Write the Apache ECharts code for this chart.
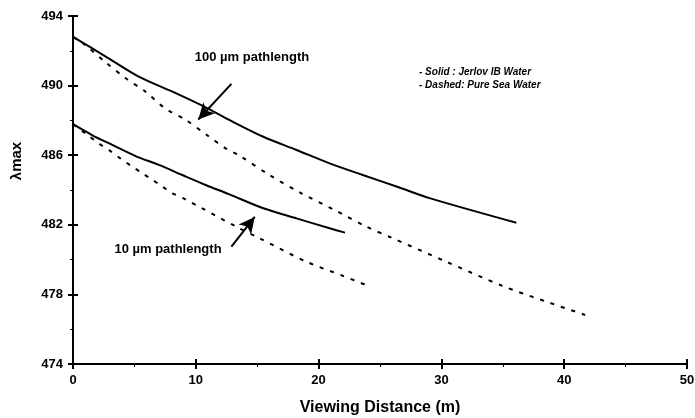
<!DOCTYPE html>
<html>
<head>
<meta charset="utf-8">
<script src="https://cdn.jsdelivr.net/npm/echarts@6/dist/echarts.min.js"></script>
<style>
  html, body { margin: 0; padding: 0; background: #fff; }
  #chart { width: 695px; height: 418px; }
</style>
</head>
<body>
<div id="chart"></div>
<script>
// Peak wavelength (λmax) versus viewing distance, two pathlengths, two water types.
const solid100X  = [0, 2.6, 5.4, 8.1, 10.8, 12.8, 15.5, 18.2, 20.9, 23.6, 26.4, 29.1, 36.1];
const solid100Y  = [492.8, 491.7, 490.5, 489.65, 488.75, 488.0, 487.06, 486.3, 485.53, 484.86, 484.19, 483.52, 482.12];

const dashed100X = [0, 1, 2.6, 4.3, 5.9, 7.5, 9.2, 10.9, 12.5, 13.5, 16, 18.6, 21.3, 23.9, 25.8, 30.4, 35, 38.8, 41.7];
const dashed100Y = [492.8, 492.33, 491.37, 490.42, 489.65, 488.69, 488.02, 487.16, 486.36, 486.0, 484.86, 483.81, 482.85, 481.89, 481.3, 479.88, 478.48, 477.52, 476.82];

const solid10X   = [0, 1.55, 3.2, 5.1, 7.0, 8.9, 10.8, 12.7, 15.5, 18.2, 20.9, 22.15];
const solid10Y   = [487.78, 487.16, 486.59, 485.95, 485.44, 484.86, 484.29, 483.76, 482.95, 482.37, 481.8, 481.55];

const dashed10X  = [0, 1, 2.1, 3.0, 3.85, 4.75, 5.6, 6.4, 7.3, 8.1, 9.0, 13.3, 15.2, 19.0, 22.0, 24.05];
const dashed10Y  = [487.78, 487.26, 486.68, 486.26, 485.82, 485.38, 484.99, 484.61, 484.19, 483.81, 483.52, 481.89, 481.22, 479.88, 479.06, 478.48];

const yTicks      = [474, 478, 482, 486, 490, 494];
const yMinorTicks = [476, 480, 484, 488, 492];
const xTicks      = [0, 10, 20, 30, 40, 50];

// Annotation arrows: [tail, head] in data units
const arrow100 = [[12.9, 490.1], [10.2, 488.05]];
const arrow10  = [[12.9, 480.75], [14.8, 482.45]];

const FONT = "'Liberation Sans', Arial, sans-serif";
const pairs = (xs, ys) => xs.map((x, i) => [x, ys[i]]);

const chart = echarts.init(document.getElementById('chart'), null, { renderer: 'canvas' });

const baseY = { type: 'value', min: 474, max: 494, splitLine: { show: false } };
const baseX = { type: 'value', min: 0, max: 50, splitLine: { show: false } };
const black = (w) => ({ color: '#000', width: w });

const lineSeries = (name, xs, ys, dashed) => ({
  name, type: 'line', data: pairs(xs, ys), showSymbol: false, smooth: 0.3,
  lineStyle: { color: '#000', width: 2, type: dashed ? [4, 7] : 'solid', cap: 'butt' },
  z: 3
});

const arrowLine = (pts) => ({
  type: 'line', data: [], markLine: {
    silent: true, animation: false,
    symbol: ['none', 'arrow'], symbolSize: [12, 16],
    lineStyle: { color: '#000', width: 2, type: 'solid' },
    label: { show: false },
    data: [[{ coord: pts[0] }, { coord: pts[1] }]]
  }
});

chart.setOption({
  animation: false,
  backgroundColor: '#fff',
  grid: { left: 73, right: 8, top: 16, bottom: 54, containLabel: false, outerBoundsMode: 'none' },
  xAxis: [
    Object.assign({}, baseX, {
      name: 'Viewing Distance (m)', nameLocation: 'middle', nameGap: 36,
      nameTextStyle: { fontFamily: FONT, fontWeight: 'bold', fontSize: 16, color: '#000' },
      axisLine: { onZero: false, lineStyle: black(2) },
      axisTick: { length: 5, customValues: xTicks, lineStyle: black(2) },
      minorTick: { show: true, splitNumber: 2, length: 3, lineStyle: black(1) },
      axisLabel: { customValues: xTicks, fontFamily: FONT, fontWeight: 'bold', fontSize: 13, color: '#000', margin: 10 }
    }),
    // upper half of the crossing major ticks
    Object.assign({}, baseX, {
      position: 'bottom', offset: -5,
      axisLine: { show: false },
      axisTick: { show: true, length: 5, customValues: xTicks, lineStyle: black(2) },
      axisLabel: { show: false }
    })
  ],
  yAxis: [
    Object.assign({}, baseY, {
      axisLine: { show: true, onZero: false, lineStyle: black(2) },
      axisTick: { show: true, length: 5, customValues: yTicks, lineStyle: black(2) },
      axisLabel: { customValues: yTicks, fontFamily: FONT, fontWeight: 'bold', fontSize: 13, color: '#000', margin: 10 }
    }),
    // right half of the crossing major ticks
    Object.assign({}, baseY, {
      position: 'left', offset: -5,
      axisLine: { show: false },
      axisTick: { show: true, length: 5, customValues: yTicks, lineStyle: black(2) },
      axisLabel: { show: false }
    }),
    Object.assign({}, baseY, {
      position: 'left',
      axisLine: { show: false },
      axisTick: { show: true, length: 3, customValues: yMinorTicks, lineStyle: black(1) },
      axisLabel: { show: false }
    })
  ],
  series: [
    lineSeries('Jerlov IB, 100 µm', solid100X, solid100Y, false),
    lineSeries('Pure sea, 100 µm', dashed100X, dashed100Y, true),
    lineSeries('Jerlov IB, 10 µm', solid10X, solid10Y, false),
    lineSeries('Pure sea, 10 µm', dashed10X, dashed10Y, true),
    arrowLine(arrow100),
    arrowLine(arrow10)
  ],
  graphic: [
    { type: 'text', x: 17, y: 161, rotation: Math.PI / 2,
      style: { text: 'λmax', font: "bold 15px " + FONT, fill: '#000', align: 'center', verticalAlign: 'middle' } },
    { type: 'text', x: 252, y: 57,
      style: { text: '100 µm pathlength', font: "bold 13px " + FONT, fill: '#000', align: 'center', verticalAlign: 'middle' } },
    { type: 'text', x: 168, y: 249,
      style: { text: '10 µm pathlength', font: "bold 13px " + FONT, fill: '#000', align: 'center', verticalAlign: 'middle' } },
    { type: 'text', x: 419, y: 72,
      style: { text: '- Solid : Jerlov IB Water', font: "italic bold 10px " + FONT, fill: '#000', align: 'left', verticalAlign: 'middle' } },
    { type: 'text', x: 419, y: 85,
      style: { text: '- Dashed: Pure Sea Water', font: "italic bold 10px " + FONT, fill: '#000', align: 'left', verticalAlign: 'middle' } }
  ]
});
</script>
</body>
</html>
